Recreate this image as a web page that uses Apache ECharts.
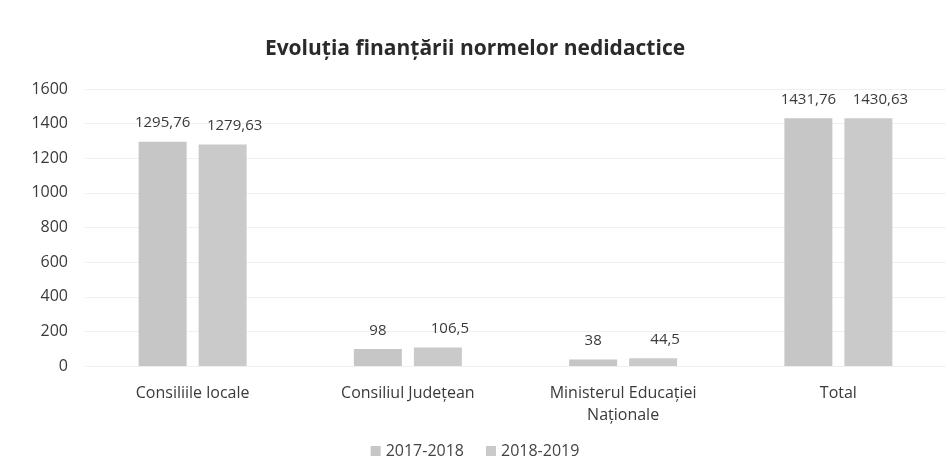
<!DOCTYPE html>
<html>
<head>
<meta charset="utf-8">
<script src="https://cdn.jsdelivr.net/npm/echarts@6/dist/echarts.min.js"></script>
<style>
  html, body { margin: 0; padding: 0; background: #fff; }
  #chart { width: 950px; height: 474px; }
</style>
</head>
<body>
<div id="chart"></div>
<script>
const categories = ['Consiliile locale', 'Consiliul Județean', 'Ministerul Educației\nNaționale', 'Total'];
const seriesNames = ['2017-2018', '2018-2019'];
const values2017 = [1295.76, 98, 38, 1431.76];
const values2018 = [1279.63, 106.5, 44.5, 1430.63];

const chart = echarts.init(document.getElementById('chart'));

// Excel-style decimal comma
const fmt = p => String(p.value).replace('.', ',');

const barLabel = {
    show: true,
    position: 'top',
    distance: 11,
    color: '#3a3a3a',
    fontFamily: 'Open Sans',
    fontSize: 15,
    formatter: fmt
};

const option = {
    backgroundColor: '#fff',
    textStyle: { fontFamily: 'Open Sans' },
    title: {
        text: 'Evoluția finanțării normelor nedidactice',
        left: 'center',
        top: 34,
        textStyle: { color: '#2a2a2a', fontSize: 21, fontWeight: 'bold', fontFamily: 'Open Sans' }
    },
    legend: {
        data: seriesNames,
        bottom: 10,
        left: 'center',
        icon: 'rect',
        itemWidth: 10,
        itemHeight: 10,
        itemGap: 22,
        textStyle: { color: '#444', fontSize: 16 }
    },
    grid: {
        left: 85,
        right: 4,
        top: 89,
        bottom: 108
    },
    xAxis: {
        type: 'category',
        data: categories,
        axisLine: { show: false },
        axisTick: { show: false },
        axisLabel: { color: '#3a3a3a', fontSize: 16, margin: 16, lineHeight: 22 }
    },
    yAxis: {
        type: 'value',
        min: 0,
        max: 1600,
        interval: 200,
        axisLabel: { color: '#3a3a3a', fontSize: 16, margin: 17, formatter: v => String(v) },
        axisLine: { show: false },
        axisTick: { show: false },
        splitLine: { lineStyle: { color: '#f0f0f0', width: 1 } }
    },
    series: [
        {
            name: seriesNames[0],
            type: 'bar',
            data: values2017,
            barWidth: 48,
            barGap: '25%',
            itemStyle: { color: '#c6c6c6' },
            label: barLabel
        },
        {
            name: seriesNames[1],
            type: 'bar',
            data: values2018,
            barWidth: 48,
            itemStyle: { color: '#cacaca' },
            label: Object.assign({}, barLabel, { offset: [12, 0] })
        }
    ]
};

chart.setOption(option);
</script>
</body>
</html>
